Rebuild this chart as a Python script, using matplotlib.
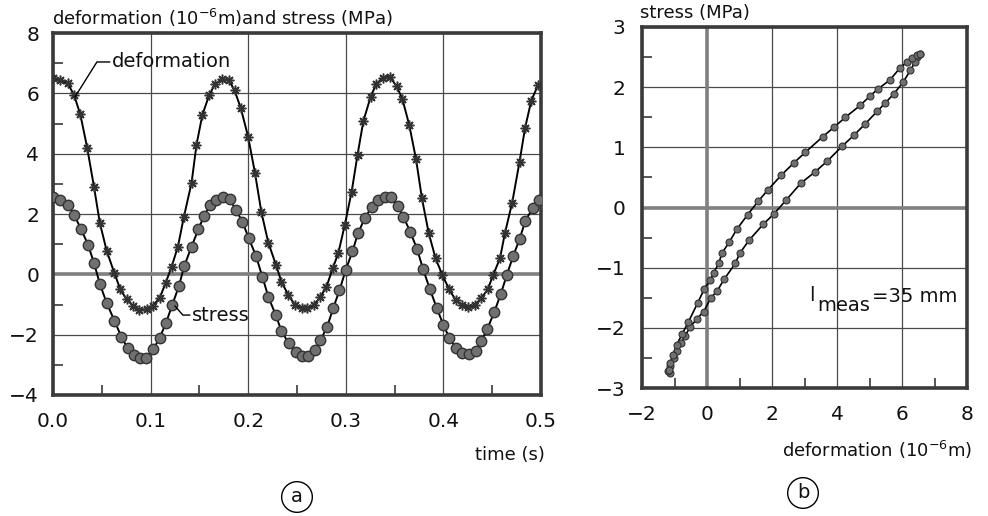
import matplotlib
matplotlib.use("Agg")
import matplotlib.pyplot as plt
from matplotlib.ticker import MultipleLocator, FormatStrFormatter

# ---------------- data ----------------
# panel (a): deformation (1e-6 m) vs time (s)
t_def = [0.000, 0.007, 0.015, 0.0215, 0.028, 0.035, 0.042, 0.048, 0.055, 0.063,
         0.069, 0.0755, 0.082, 0.088, 0.096, 0.102, 0.1095, 0.1155, 0.1215, 0.128,
         0.134, 0.142, 0.147, 0.153, 0.160, 0.166, 0.173, 0.180, 0.186, 0.1925,
         0.200, 0.207, 0.2135, 0.2206, 0.2285, 0.234, 0.241, 0.248, 0.255, 0.2605,
         0.2674, 0.2736, 0.280, 0.2866, 0.2923, 0.299, 0.306, 0.312, 0.318, 0.3255,
         0.331, 0.338, 0.345, 0.352, 0.358, 0.365, 0.372, 0.378, 0.385, 0.392,
         0.399, 0.406, 0.4125, 0.419, 0.4255, 0.432, 0.4385, 0.4455, 0.451, 0.458,
         0.463, 0.4705, 0.478, 0.4836, 0.490, 0.497]
deformation = [6.50, 6.45, 6.33, 5.95, 5.30, 4.20, 2.90, 1.70, 0.78, 0.03,
               -0.50, -0.83, -1.05, -1.18, -1.16, -1.05, -0.77, -0.28, 0.25, 0.92,
               1.89, 3.04, 4.29, 5.28, 5.94, 6.31, 6.46, 6.45, 6.10, 5.50,
               4.55, 3.35, 2.06, 1.05, 0.31, -0.24, -0.68, -1.02, -1.13, -1.13,
               -1.02, -0.76, -0.43, 0.20, 0.70, 1.64, 2.74, 3.96, 5.08, 5.89,
               6.30, 6.52, 6.55, 6.24, 5.81, 4.95, 3.81, 2.52, 1.36, 0.53,
               -0.03, -0.50, -0.85, -1.02, -1.09, -1.02, -0.80, -0.50, -0.02, 0.53,
               1.36, 2.38, 3.73, 4.84, 5.75, 6.28]

# panel (a): stress (MPa) vs time (s)
t_str = [0.000, 0.0075, 0.0157, 0.0215, 0.0287, 0.036, 0.042, 0.048, 0.055, 0.063,
         0.070, 0.0765, 0.083, 0.089, 0.095, 0.1028, 0.1092, 0.1158, 0.122, 0.129,
         0.1345, 0.142, 0.149, 0.1547, 0.161, 0.167, 0.174, 0.181, 0.1875, 0.194,
         0.2005, 0.208, 0.2145, 0.2206, 0.2282, 0.234, 0.2415, 0.2485, 0.2555, 0.2616,
         0.268, 0.274, 0.281, 0.287, 0.2935, 0.300, 0.3068, 0.3125, 0.3197, 0.3265,
         0.333, 0.340, 0.346, 0.353, 0.359, 0.366, 0.373, 0.379, 0.386, 0.393,
         0.400, 0.406, 0.413, 0.419, 0.4265, 0.433, 0.439, 0.445, 0.452, 0.4587,
         0.465, 0.4715, 0.478, 0.484, 0.4915, 0.498]
stress = [2.55, 2.46, 2.30, 1.97, 1.51, 0.97, 0.38, -0.32, -0.95, -1.54,
          -2.07, -2.45, -2.67, -2.77, -2.77, -2.48, -2.11, -1.61, -1.03, -0.39,
          0.28, 0.92, 1.50, 1.93, 2.30, 2.48, 2.55, 2.50, 2.13, 1.75,
          1.20, 0.61, -0.08, -0.74, -1.35, -1.87, -2.29, -2.58, -2.70, -2.70,
          -2.51, -2.19, -1.73, -1.13, -0.53, 0.15, 0.76, 1.36, 1.88, 2.23,
          2.46, 2.58, 2.56, 2.27, 1.91, 1.41, 0.84, 0.19, -0.48, -1.10,
          -1.68, -2.10, -2.45, -2.62, -2.64, -2.53, -2.21, -1.81, -1.26, -0.66,
          -0.02, 0.61, 1.16, 1.78, 2.19, 2.46]

# panel (b): hysteresis loop, deformation (1e-6 m) and stress (MPa)
loop_def = [6.55, 6.47, 6.40, 6.26, 6.03, 5.75, 5.49, 5.24, 4.85, 4.52, 4.16, 3.70,
            3.32, 2.88, 2.43, 2.07, 1.73, 1.30, 1.01, 0.87, 0.53, 0.31, 0.12, -0.10,
            -0.31, -0.51, -0.67, -0.80, -0.93, -1.03, -1.13, -1.15, -1.20, -1.17,
            -1.13, -1.05, -0.93, -0.77, -0.57, -0.29, -0.08, 0.10, 0.20, 0.36, 0.46,
            0.69, 0.92, 1.25, 1.57, 1.87, 2.29, 2.67, 3.03, 3.57, 3.92, 4.26, 4.72,
            5.01, 5.26, 5.63, 5.94, 6.16, 6.32, 6.47, 6.55]
loop_str = [2.55, 2.50, 2.42, 2.28, 2.08, 1.89, 1.74, 1.60, 1.38, 1.20, 1.02, 0.77,
            0.59, 0.40, 0.12, -0.10, -0.28, -0.54, -0.76, -0.93, -1.19, -1.39, -1.50, -1.73,
            -1.85, -1.98, -2.13, -2.26, -2.39, -2.50, -2.64, -2.75, -2.72, -2.70,
            -2.59, -2.45, -2.28, -2.11, -1.90, -1.59, -1.35, -1.21, -1.09, -0.93, -0.76,
            -0.57, -0.36, -0.12, 0.10, 0.29, 0.54, 0.74, 0.92, 1.18, 1.34, 1.50, 1.70,
            1.85, 1.97, 2.12, 2.32, 2.42, 2.48, 2.53, 2.55]

x_ticks_a = [0.0, 0.1, 0.2, 0.3, 0.4, 0.5]
y_ticks_a = [-4, -2, 0, 2, 4, 6, 8]
x_ticks_b = [-2, 0, 2, 4, 6, 8]
y_ticks_b = [-3, -2, -1, 0, 1, 2, 3]

# ---------------- figure ----------------
plt.rcParams['font.family'] = ['DejaVu Sans']
plt.rcParams['mathtext.fontset'] = 'dejavusans'
fig = plt.figure(figsize=(9.88, 5.16), dpi=100)

SPINE = '#3a3a3a'
GRID = '#4a4a4a'
ZERO = '#808080'
TXT = '#111111'


def style_axes(ax):
    for s in ax.spines.values():
        s.set_linewidth(2.6)
        s.set_color(SPINE)
    ax.grid(True, which='major', color=GRID, linewidth=0.9)
    ax.tick_params(which='both', direction='in', top=False, right=False,
                   colors=SPINE, labelcolor=TXT, labelsize=14.5)
    ax.tick_params(which='major', length=0, pad=12)
    ax.tick_params(which='minor', length=7, width=1.2)
    ax.set_axisbelow(True)


# ---- panel (a) ----
ax1 = fig.add_axes([53 / 988, 1 - 395 / 516, 488 / 988, 362 / 516])
style_axes(ax1)
ax1.set_xlim(0, 0.5)
ax1.set_ylim(-4, 8)
ax1.set_xticks(x_ticks_a)
ax1.set_yticks(y_ticks_a)
ax1.xaxis.set_major_formatter(FormatStrFormatter('%.1f'))
ax1.xaxis.set_minor_locator(MultipleLocator(0.05))
ax1.yaxis.set_minor_locator(MultipleLocator(1))
ax1.tick_params(axis='y', which='major', pad=10)
ax1.axhline(0, color=ZERO, linewidth=2.6, zorder=1)

ax1.plot(t_def, deformation, color='black', linewidth=1.4, zorder=3,
         marker=(8, 2, 0), markersize=7, markeredgecolor='#333333',
         markeredgewidth=1.1)
ax1.plot(t_str, stress, color='black', linewidth=1.4, zorder=3,
         marker='o', markersize=7.5, markerfacecolor='#707070',
         markeredgecolor='#333333', markeredgewidth=1.0)

ax1.plot([0.0225, 0.045, 0.058], [5.88, 7.04, 7.04], color='black', linewidth=1.0, zorder=4)
ax1.text(0.0605, 7.04, 'deformation', fontsize=14, color=TXT, va='center', ha='left')
ax1.plot([0.125, 0.133, 0.140], [-1.05, -1.35, -1.35], color='black', linewidth=1.0, zorder=4)
ax1.text(0.1425, -1.35, 'stress', fontsize=14, color=TXT, va='center', ha='left')

fig.text(52 / 988, 1 - 18 / 516, r'deformation (10$^{-6}$m)and stress (MPa)',
         fontsize=13, color=TXT, va='center', ha='left')
fig.text(545 / 988, 1 - 455 / 516, 'time (s)', fontsize=13, color=TXT,
         va='center', ha='right')
fig.text(297 / 988, 1 - 497 / 516, 'a', fontsize=14, color=TXT, va='center', ha='center',
         bbox=dict(boxstyle='circle,pad=0.3', facecolor='white', edgecolor='black', linewidth=1.0))

# ---- panel (b) ----
ax2 = fig.add_axes([642 / 988, 1 - 388 / 516, 325 / 988, 361 / 516])
style_axes(ax2)
ax2.set_xlim(-2, 8)
ax2.set_ylim(-3, 3)
ax2.set_xticks(x_ticks_b)
ax2.set_yticks(y_ticks_b)
ax2.xaxis.set_minor_locator(MultipleLocator(1))
ax2.yaxis.set_minor_locator(MultipleLocator(0.5))
ax2.tick_params(axis='y', which='major', pad=12)
ax2.axhline(0, color=ZERO, linewidth=2.6, zorder=1)
ax2.axvline(0, color=ZERO, linewidth=2.6, zorder=1)

ax2.plot(loop_def, loop_str, color='black', linewidth=1.2, zorder=3,
         marker='o', markersize=5, markerfacecolor='#707070',
         markeredgecolor='#333333', markeredgewidth=0.8)

ax2.text(3.15, -1.47, 'l', fontsize=14, color=TXT, va='center', ha='left')
ax2.text(3.40, -1.63, 'meas', fontsize=14, color=TXT, va='center', ha='left')
ax2.text(5.08, -1.48, '=35 mm', fontsize=14, color=TXT, va='center', ha='left')

fig.text(640 / 988, 1 - 13 / 516, 'stress (MPa)', fontsize=13, color=TXT,
         va='center', ha='left')
fig.text(972 / 988, 1 - 450 / 516, r'deformation (10$^{-6}$m)', fontsize=13, color=TXT,
         va='center', ha='right')
fig.text(803 / 988, 1 - 493 / 516, 'b', fontsize=14, color=TXT, va='center', ha='center',
         bbox=dict(boxstyle='circle,pad=0.3', facecolor='white', edgecolor='black', linewidth=1.0))

fig.savefig('out.png', dpi=100, facecolor='white')
